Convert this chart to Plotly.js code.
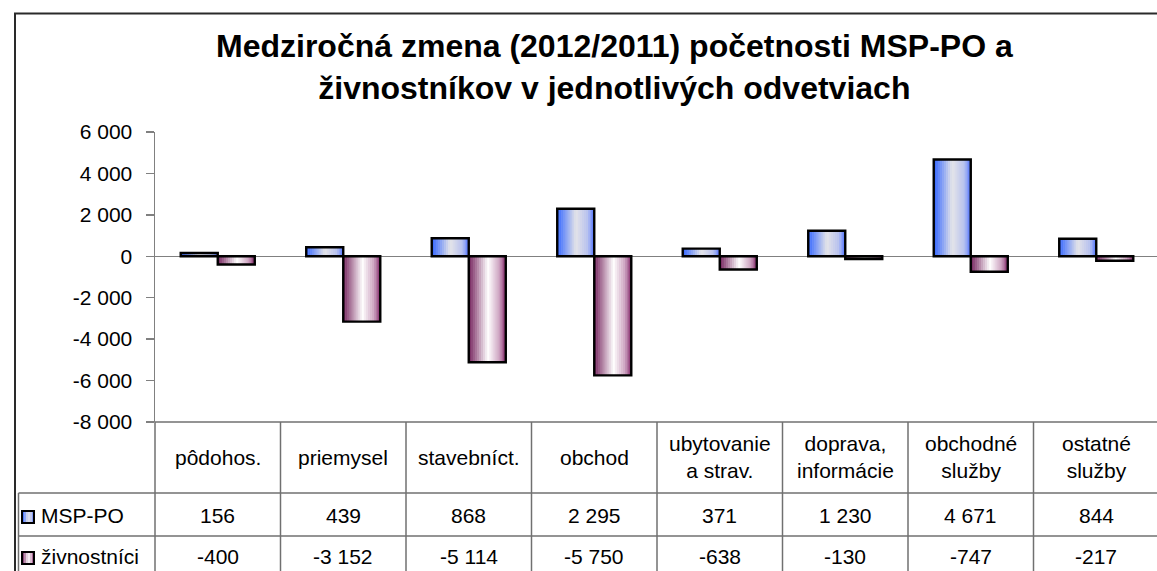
<!DOCTYPE html>
<html>
<head>
<meta charset="utf-8">
<script src="https://cdn.plot.ly/plotly-3.0.1.min.js"></script>
<style>
html,body{margin:0;padding:0;background:#fff;overflow:hidden;width:1157px;height:571px;}
#chart{width:1220px;height:600px;}
</style>
</head>
<body>
<div id="chart"></div>
<script>
// ---- data ----
const categories = ["pôdohos.", "priemysel", "stavebníct.", "obchod", "ubytovanie<br>a strav.", "doprava,<br>informácie", "obchodné<br>služby", "ostatné<br>služby"];
const seriesNames = ["MSP-PO", "živnostníci"];
const mspValues = [156, 439, 868, 2295, 371, 1230, 4671, 844];
const zivValues = [-400, -3152, -5114, -5750, -638, -130, -747, -217];
const yTickVals = [-8000, -6000, -4000, -2000, 0, 2000, 4000, 6000];
const yTickText = ["-8 000", "-6 000", "-4 000", "-2 000", "0", "2 000", "4 000", "6 000"];
const titleText = "Medziročná zmena (2012/2011) početnosti MSP-PO a<br>živnostníkov v jednotlivých odvetviach";

// ---- geometry helpers (layout only) ----
const W = 1220, H = 600;
const PL = 155, PR = 1159, PT = 132, PB = 422;
const px2x = p => (p - PL) / (PR - PL);
const py2y = p => (PB - p) / (PB - PT);
const FONT = "Liberation Sans, Arial, sans-serif";

function hex2rgb(h){h=h.replace('#','');return [parseInt(h.substr(0,2),16),parseInt(h.substr(2,2),16),parseInt(h.substr(4,2),16)];}
function grad(stops, t){
  for(let i=0;i<stops.length-1;i++){
    const [t0,c0]=stops[i],[t1,c1]=stops[i+1];
    if(t>=t0 && t<=t1){
      const f=(t-t0)/(t1-t0), a=hex2rgb(c0), b=hex2rgb(c1);
      return 'rgb('+a.map((v,k)=>Math.round(v+(b[k]-v)*f)).join(',')+')';
    }
  }
  return stops[stops.length-1][1];
}
const blueStops = [[0,'#3366FF'],[0.5,'#E4E4E8'],[0.82,'#B8C2EE'],[1,'#5B7BFF']];
const purpleStops = [[0,'#76245E'],[0.52,'#FFFFFF'],[0.82,'#CFA6C2'],[1,'#8A3572']];

function fmt(v){
  const s = Math.abs(v).toString().replace(/\B(?=(\d{3})+(?!\d))/g,' ');
  return (v<0?'-':'')+s;
}

const BW = 0.295;   // bar width in category units
const N = 18;       // strips for gradient
const traces = [];
function addSeries(vals, stops, off){
  const sw = BW / N;
  for(let i=0;i<N;i++){
    traces.push({
      type:'bar', x:categories, y:vals,
      width: sw*1.25, offset: off + i*sw - (i===N-1?0.25*sw:0),
      marker:{color:grad(stops,(i+0.5)/N), line:{width:0}},
      hoverinfo:'skip', showlegend:false
    });
  }
  traces.push({
    type:'bar', x:categories, y:vals, width:BW, offset:off,
    marker:{color:'rgba(0,0,0,0)', line:{color:'#000', width:2.4}},
    hoverinfo:'skip', showlegend:false
  });
}
addSeries(mspValues, blueStops, -BW);
addSeries(zivValues, purpleStops, 0);

// ---- table shapes & annotations ----
const lineC = '#707070';
const shapes = [];
const annotations = [];
// outer frame
shapes.push({type:'rect', xref:'paper', yref:'paper', x0:px2x(15), x1:px2x(1210), y0:py2y(590), y1:py2y(13.5), line:{color:'#2a2a2a', width:2}, fillcolor:'rgba(0,0,0,0)'});
// table top border (plot bottom)
shapes.push({type:'line', xref:'paper', yref:'paper', x0:px2x(155), x1:px2x(1190), y0:0, y1:0, line:{color:lineC, width:1.5}});
// vertical lines
for(let k=0;k<=categories.length;k++){
  const xp = PL + k*(PR-PL)/categories.length;
  shapes.push({type:'line', xref:'paper', yref:'paper', x0:px2x(xp), x1:px2x(xp), y0:0, y1:py2y(600), line:{color:lineC, width:1.5}});
}
// row lines
[493, 536].forEach(r=>{
  shapes.push({type:'line', xref:'paper', yref:'paper', x0:px2x(18.5), x1:px2x(1190), y0:py2y(r), y1:py2y(r), line:{color:lineC, width:1.5}});
});
// legend column left border
shapes.push({type:'line', xref:'paper', yref:'paper', x0:px2x(18.5), x1:px2x(18.5), y0:py2y(493), y1:py2y(600), line:{color:lineC, width:1.5}});

// legend keys (gradient squares)
function addKey(stops, yc){
  const x0=22, x1=34, y0=yc-6, y1=yc+6, n=6;
  for(let i=0;i<n;i++){
    const a=x0+(x1-x0)*i/n, b=x0+(x1-x0)*(i+1)/n;
    shapes.push({type:'rect', xref:'paper', yref:'paper', x0:px2x(a), x1:px2x(b+0.3), y0:py2y(y1), y1:py2y(y0), line:{width:0}, fillcolor:grad(stops,(i+0.5)/n)});
  }
  shapes.push({type:'rect', xref:'paper', yref:'paper', x0:px2x(x0), x1:px2x(x1), y0:py2y(y1), y1:py2y(y0), line:{color:'#000', width:2}, fillcolor:'rgba(0,0,0,0)'});
}
addKey(blueStops, 517);
addKey(purpleStops, 558);

const tf = {family:FONT, size:21, color:'#000'};
annotations.push({xref:'paper', yref:'paper', x:px2x(39), y:py2y(515), xanchor:'left', yanchor:'middle', text:seriesNames[0], showarrow:false, font:tf});
annotations.push({xref:'paper', yref:'paper', x:px2x(39), y:py2y(556), xanchor:'left', yanchor:'middle', text:seriesNames[1], showarrow:false, font:tf});
categories.forEach((c,i)=>{
  annotations.push({xref:'x', yref:'paper', x:i, y:py2y(457), xanchor:'center', yanchor:'middle', text:c, showarrow:false, font:tf});
  annotations.push({xref:'x', yref:'paper', x:i, y:py2y(515), xanchor:'center', yanchor:'middle', text:fmt(mspValues[i]), showarrow:false, font:tf});
  annotations.push({xref:'x', yref:'paper', x:i, y:py2y(556), xanchor:'center', yanchor:'middle', text:fmt(zivValues[i]), showarrow:false, font:tf});
});
// title
annotations.push({xref:'paper', yref:'paper', x:px2x(614), y:py2y(67), xanchor:'center', yanchor:'middle', text:'<b>'+titleText+'</b>', showarrow:false, font:{family:FONT, size:32, color:'#000'}});

const layout = {
  width:W, height:H,
  margin:{l:PL, r:W-PR, t:PT, b:H-PB, pad:0},
  paper_bgcolor:'#fff', plot_bgcolor:'#fff',
  barmode:'overlay',
  showlegend:false,
  xaxis:{type:'category', range:[-0.5, categories.length-0.5], showticklabels:false, showline:false, showgrid:false, zeroline:false, ticks:'', fixedrange:true},
  yaxis:{range:[-8000, 6000], tickvals:yTickVals, ticktext:yTickText, showline:true, linecolor:'#808080', linewidth:1.5,
         ticks:'outside', ticklen:8, tickwidth:1.5, tickcolor:'#808080', ticklabelstandoff:9,
         showgrid:false, zeroline:true, zerolinecolor:'#808080', zerolinewidth:1.5,
         tickfont:{family:FONT, size:21, color:'#000'}, fixedrange:true},
  shapes:shapes, annotations:annotations
};
Plotly.newPlot('chart', traces, layout, {staticPlot:true, displayModeBar:false});
</script>
</body>
</html>
